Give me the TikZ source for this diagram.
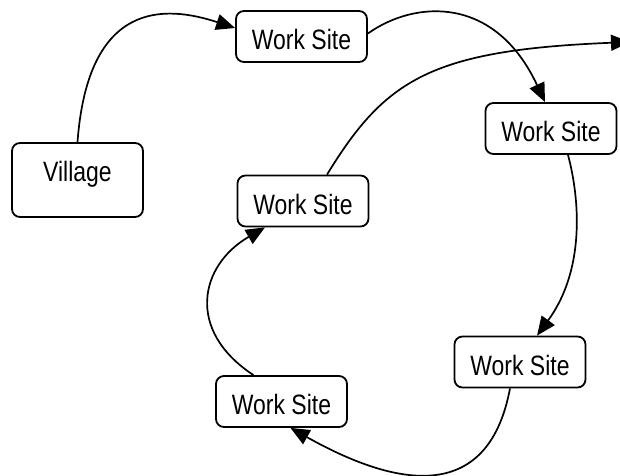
\documentclass[tikz,border=0pt]{standalone}
\usepackage{fontspec}
\setmainfont[FakeStretch=0.82]{Liberation Sans}
\usetikzlibrary{arrows.meta}
\begin{document}
\begin{tikzpicture}[x=1pt,y=-1pt,
  site/.style={draw=black,line width=1.8pt,rounded corners=8pt,minimum width=131pt,minimum height=51pt,inner sep=0pt,
    font=\fontsize{28}{30}\selectfont,text height=26pt,text depth=0pt},
  village/.style={site,minimum height=74pt,text height=20pt,text depth=18pt},
  edge/.style={line width=1.7pt,-{Triangle[length=19pt,width=16pt]}}]
\useasboundingbox (0,0) rectangle (620,475);
\node[village] (v) at (77.5,180) {Village};
\node[site] (w1) at (301.5,36.5) {Work Site};
\node[site] (w2) at (551,128.5) {Work Site};
\node[site] (w3) at (303,201) {Work Site};
\node[site] (w4) at (520,362) {Work Site};
\node[site] (w5) at (281.5,401.5) {Work Site};
\coordinate (out) at (630,42);
\draw[edge] (v.north) .. controls (88,0) and (165,5) .. ([yshift=8.5pt]w1.west);
\draw[edge] ([yshift=3pt]w1.east) .. controls (415,0) and (495,-5) .. ([xshift=-6pt]w2.north);
\draw[edge] ([xshift=17pt]w2.south) .. controls (580,200) and (585,270) .. ([xshift=17pt]w4.north);
\draw[edge] ([xshift=-10pt]w4.south) .. controls (490,495) and (410,495) .. ([xshift=9pt]w5.south);
\draw[edge] ([xshift=-28pt]w5.north) .. controls (185,330) and (200,265) .. ([xshift=-38pt]w3.south);
\draw[edge] ([xshift=24pt]w3.north) .. controls (385,80) and (430,50) .. (out);
\end{tikzpicture}
\end{document}
